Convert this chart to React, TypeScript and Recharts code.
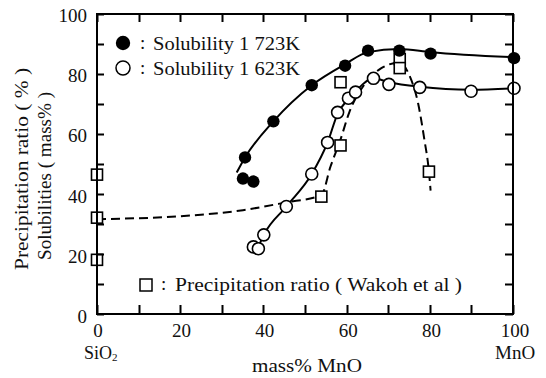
import { ComposedChart, Line, Scatter, XAxis, YAxis } from 'recharts';

// 1723K solubility markers (mass% MnO, mass%)
const sol1723 = [
    { x: 35.5, y: 52 },
    { x: 35, y: 45 },
    { x: 37.5, y: 44 },
    { x: 42.3, y: 64 },
    { x: 51.5, y: 76 },
    { x: 59.5, y: 82.5 },
    { x: 65, y: 87.5 },
    { x: 72.5, y: 87.5 },
    { x: 80, y: 86.5 },
    { x: 100, y: 85 },
];

// fitted curve drawn through the 1723K points
const sol1723Curve = [
    { x: 33.5, y: 47 },
    { x: 35.5, y: 52 },
    { x: 42.3, y: 64 },
    { x: 51.5, y: 76 },
    { x: 59.5, y: 83 },
    { x: 65, y: 87 },
    { x: 72.5, y: 88 },
    { x: 80, y: 87 },
    { x: 100, y: 85.3 },
];

const sol1623 = [
    { x: 37.5, y: 22.3 },
    { x: 38.7, y: 21.7 },
    { x: 40, y: 26.3 },
    { x: 45.4, y: 35.7 },
    { x: 51.5, y: 46.5 },
    { x: 55.3, y: 57 },
    { x: 57.7, y: 67 },
    { x: 60.3, y: 71.7 },
    { x: 62, y: 73.7 },
    { x: 66.3, y: 78.3 },
    { x: 70, y: 76.3 },
    { x: 77.4, y: 75.3 },
    { x: 89.7, y: 74 },
    { x: 100, y: 75 },
];

const sol1623Curve = [
    { x: 38.5, y: 21.7 },
    { x: 40, y: 26.3 },
    { x: 45.4, y: 35.7 },
    { x: 51.5, y: 46.5 },
    { x: 55.3, y: 57 },
    { x: 57.7, y: 66.5 },
    { x: 60.3, y: 71.5 },
    { x: 62, y: 74 },
    { x: 66.3, y: 78.3 },
    { x: 70, y: 77 },
    { x: 77.4, y: 75.5 },
    { x: 89.7, y: 74.5 },
    { x: 100, y: 75 },
];

// precipitation ratio (Wakoh et al)
const precip = [
    { x: 0, y: 46.3 },
    { x: 0, y: 32 },
    { x: 0, y: 18 },
    { x: 53.8, y: 39 },
    { x: 58.4, y: 56 },
    { x: 58.4, y: 77 },
    { x: 72.6, y: 84.7 },
    { x: 72.6, y: 81.7 },
    { x: 79.6, y: 47.3 },
];

const precipCurve = [
    { x: 0, y: 31.5 },
    { x: 20, y: 32.5 },
    { x: 35, y: 34.5 },
    { x: 45, y: 37 },
    { x: 53.8, y: 39.5 },
    { x: 56, y: 49 },
    { x: 58.4, y: 58 },
    { x: 60.5, y: 67 },
    { x: 64, y: 76 },
    { x: 68, y: 81.5 },
    { x: 72.5, y: 83.5 },
    { x: 75, y: 79 },
    { x: 77, y: 70 },
    { x: 78.5, y: 58 },
    { x: 79.6, y: 47.3 },
    { x: 80, y: 41 },
];

const xTicks = [0, 10, 20, 30, 40, 50, 60, 70, 80, 90, 100];
const yTicks = [0, 10, 20, 30, 40, 50, 60, 70, 80, 90, 100];
const labelledTicks = [0, 20, 40, 60, 80, 100];

const FONT = '"Liberation Serif", "Times New Roman", serif';
const txt = { fontFamily: FONT, fill: '#111' };

// plot box: x 97..513, y 14..314
const PL = 97, PR = 513, PT = 14, PB = 314;
const px = (v: number) => Math.round(PL + ((PR - PL) * v) / 100) + 0.5;
const py = (v: number) => Math.round(PB - ((PB - PT) * v) / 100) + 0.5;

const BottomTick = ({ x, payload }: any) =>
    labelledTicks.includes(payload.value) ? (
        <text x={x + 1} y={337} textAnchor="middle" fontSize={19} style={txt}>
            {payload.value}
        </text>
    ) : null;

const LeftTick = ({ y, payload }: any) =>
    labelledTicks.includes(payload.value) ? (
        <text x={87} y={y + 9} textAnchor="end" fontSize={19} style={txt}>
            {payload.value}
        </text>
    ) : null;

const FilledDot = ({ cx, cy }: any) => <circle cx={cx} cy={cy} r={6.2} fill="#000" />;
const OpenDot = ({ cx, cy }: any) => (
    <circle cx={cx} cy={cy} r={6} fill="#fff" stroke="#000" strokeWidth={1.6} />
);
const SquareDot = ({ cx, cy }: any) => (
    <rect x={cx - 5.5} y={cy - 5.5} width={11} height={11} fill="#fff" stroke="#000" strokeWidth={1.6} />
);

export default function App() {
    return (
        <div style={{ position: 'absolute', left: 0, top: 0, width: 546, height: 378, background: '#fff' }}>
            <ComposedChart
                width={546}
                height={378}
                margin={{ top: 13, right: 32, bottom: 63, left: 96 }}
            >
                <XAxis
                    xAxisId="b"
                    dataKey="x"
                    type="number"
                    domain={[0, 100]}
                    ticks={xTicks}
                    interval={0}
                    height={1}
                    tickSize={0}
                    tickMargin={0}
                    tick={<BottomTick />}
                    axisLine={false}
                    tickLine={false}
                />
                <YAxis
                    yAxisId="l"
                    dataKey="y"
                    type="number"
                    domain={[0, 100]}
                    ticks={yTicks}
                    interval={0}
                    width={1}
                    tickSize={0}
                    tickMargin={0}
                    tick={<LeftTick />}
                    axisLine={false}
                    tickLine={false}
                />

                <Line
                    xAxisId="b"
                    yAxisId="l"
                    data={precipCurve}
                    dataKey="y"
                    type="monotone"
                    stroke="#000"
                    strokeWidth={2}
                    strokeDasharray="9 5"
                    dot={false}
                    isAnimationActive={false}
                />
                <Line
                    xAxisId="b"
                    yAxisId="l"
                    data={sol1723Curve}
                    dataKey="y"
                    type="monotone"
                    stroke="#000"
                    strokeWidth={2}
                    dot={false}
                    isAnimationActive={false}
                />
                <Line
                    xAxisId="b"
                    yAxisId="l"
                    data={sol1623Curve}
                    dataKey="y"
                    type="monotone"
                    stroke="#000"
                    strokeWidth={2}
                    dot={false}
                    isAnimationActive={false}
                />

                <Scatter xAxisId="b" yAxisId="l" data={precip} dataKey="y" shape={<SquareDot />} isAnimationActive={false} />
                <Scatter xAxisId="b" yAxisId="l" data={sol1623} dataKey="y" shape={<OpenDot />} isAnimationActive={false} />
                <Scatter xAxisId="b" yAxisId="l" data={sol1723} dataKey="y" shape={<FilledDot />} isAnimationActive={false} />
            </ComposedChart>

            {/* frame with inward ticks, legends and axis titles */}
            <svg
                width={546}
                height={378}
                style={{ position: 'absolute', left: 0, top: 0, pointerEvents: 'none' }}
            >
                <rect x={PL} y={PT} width={PR - PL} height={PB - PT} fill="none" stroke="#000" strokeWidth={2} />
                <path
                    d={
                        xTicks.map((t) => `M${px(t)},${PB}V${PB - 9}M${px(t)},${PT}V${PT + 8}`).join('') +
                        yTicks.map((t) => `M${PL},${py(t)}H${PL + 7}M${PR},${py(t)}H${PR - 8}`).join('')
                    }
                    stroke="#000"
                    strokeWidth={2}
                    fill="none"
                />

                <circle cx={123} cy={43} r={7.2} fill="#000" />
                <text x={140} y={49} fontSize={19} style={txt}>:</text>
                <text x={153} y={50} fontSize={19} style={txt} textLength={147} lengthAdjust="spacingAndGlyphs">
                    Solubility 1 723K
                </text>
                <circle cx={123} cy={68} r={7} fill="#fff" stroke="#000" strokeWidth={1.5} />
                <text x={140} y={74} fontSize={19} style={txt}>:</text>
                <text x={153} y={75} fontSize={19} style={txt} textLength={147} lengthAdjust="spacingAndGlyphs">
                    Solubility 1 623K
                </text>

                <rect x={140} y={279} width={12} height={12} fill="#fff" stroke="#000" strokeWidth={1.5} />
                <text x={161} y={290} fontSize={19} style={txt}>:</text>
                <text x={175} y={291} fontSize={19} style={txt} textLength={287} lengthAdjust="spacingAndGlyphs">
                    Precipitation ratio ( Wakoh et al )
                </text>

                <text
                    transform="translate(28,169) rotate(-90)"
                    textAnchor="middle"
                    fontSize={19}
                    style={txt}
                    textLength={202}
                    lengthAdjust="spacingAndGlyphs"
                >
                    Precipitation ratio ( % )
                </text>
                <text
                    transform="translate(51,176) rotate(-90)"
                    textAnchor="middle"
                    fontSize={19}
                    style={txt}
                    textLength={168}
                    lengthAdjust="spacingAndGlyphs"
                >
                    Solubilities ( mass% )
                </text>

                <text x={84} y={359} fontSize={18} style={txt}>
                    SiO<tspan fontSize={11} dy={2}>2</tspan>
                </text>
                <text x={495} y={359} fontSize={19} style={txt}>MnO</text>
                <text x={252} y={372} fontSize={19} style={txt} textLength={110} lengthAdjust="spacingAndGlyphs">
                    mass% MnO
                </text>
            </svg>
        </div>
    );
}
